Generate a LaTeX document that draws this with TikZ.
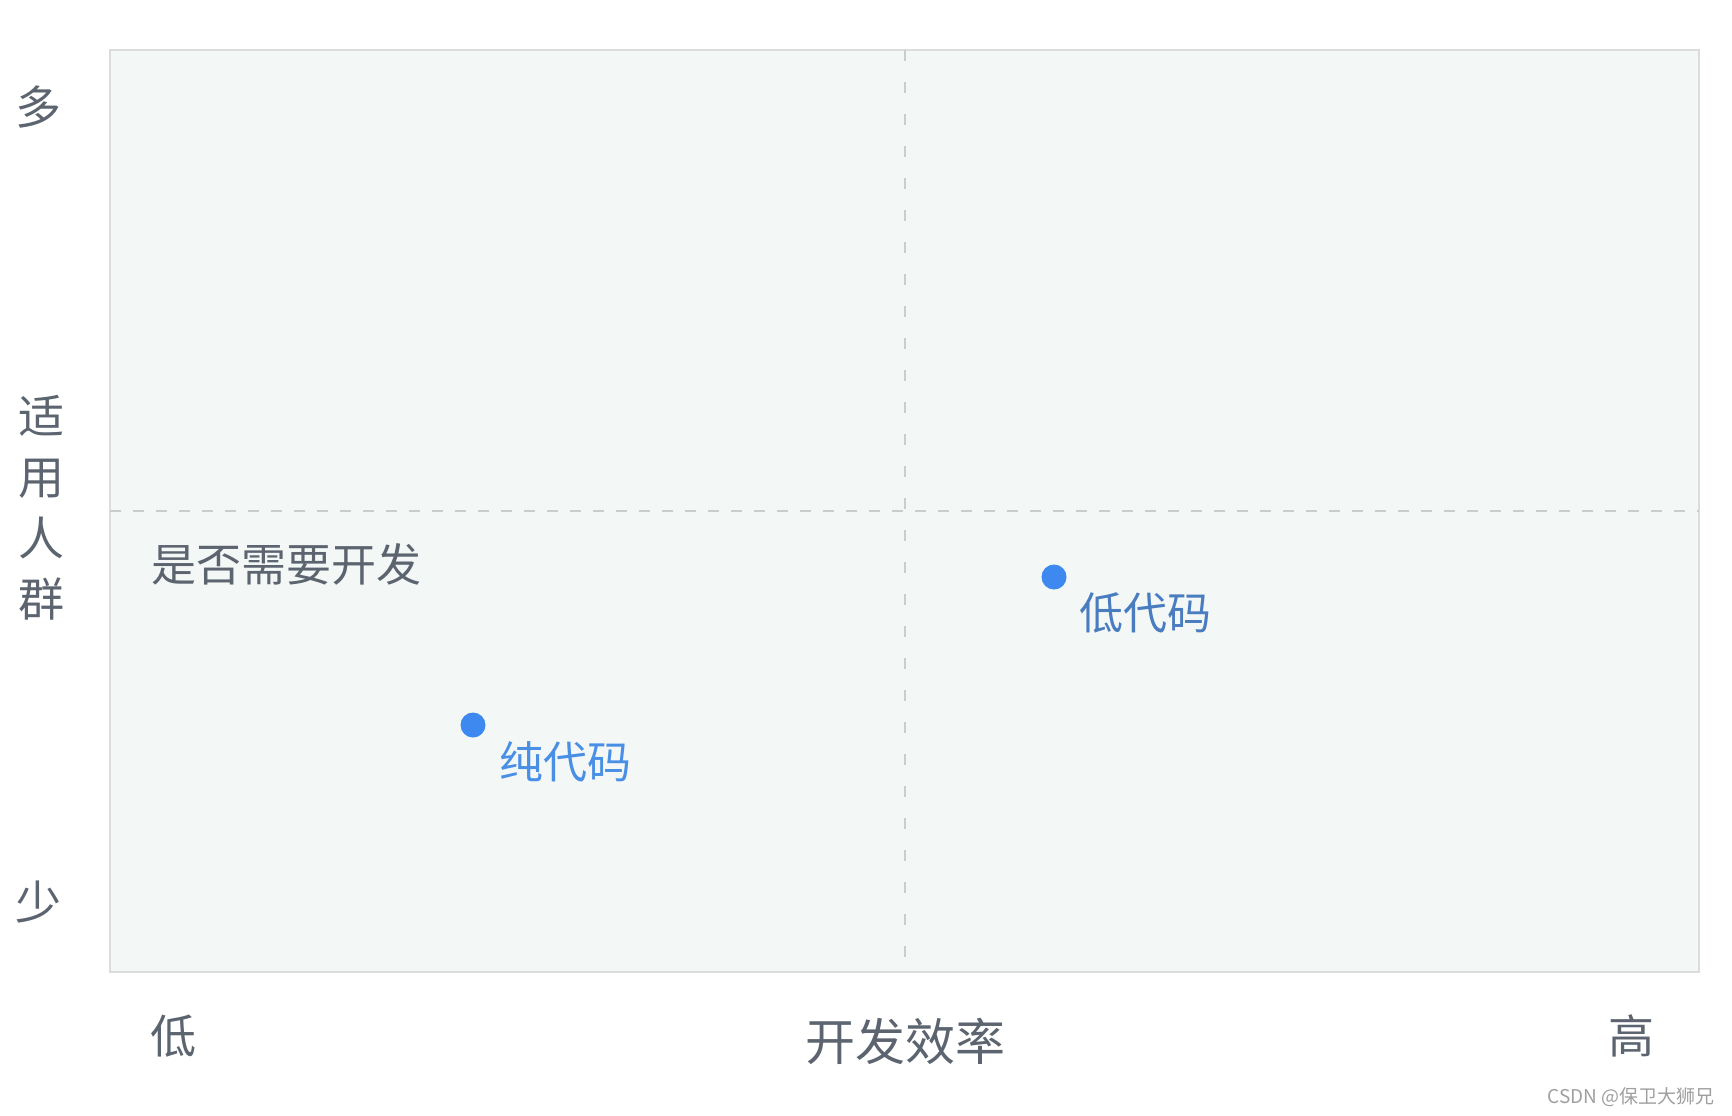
\documentclass[tikz,border=0pt]{standalone}
\usepackage{fontspec}
\setmainfont{Noto Sans CJK SC}
\usetikzlibrary{positioning}
\definecolor{axisgray}{HTML}{5C6470}
\definecolor{mint}{HTML}{F3F8F6}
\definecolor{frame}{HTML}{DADDDC}
\definecolor{dashgray}{HTML}{C9CDCC}
\definecolor{dotblue}{HTML}{3D89F0}
\definecolor{pureblue}{HTML}{4A8FE6}
\definecolor{lowblue}{HTML}{4A7CC0}
\tikzset{
    axis/.style={text=axisgray, inner sep=0pt, font=\fontsize{46}{61}\selectfont},
    tag/.style={inner sep=0pt, font=\fontsize{44}{50}\selectfont},
    dot/.style={circle, fill=dotblue, minimum size=25pt, inner sep=0pt},
    split/.style={dashgray, line width=1.8pt}
}

\begin{document}
\begin{tikzpicture}[x=1pt, y=-1pt]
        \useasboundingbox (0,0) rectangle (1732,1116);
        \draw[frame, fill=mint, line width=2.5pt] (110,50) rectangle (1699,972);
        \coordinate (top) at (905,50);
        \coordinate (bottom) at (905,972);
        \coordinate (left) at (110,511);
        \coordinate (right) at (1699,511);
        \draw[split, dash pattern=on 11pt off 21pt] (top) -- (bottom);
        \draw[split, dash pattern=on 11pt off 12pt] (left) -- (right);
        \node[axis] (many) at (39,107) {多};
        \node[axis, align=center] (crowd) at (41,508) {适\\用\\人\\群};
        \node[axis] (few) at (39,902) {少};
        \node[axis] (lowx) at (173,1036) {低};
        \node[axis, font=\fontsize{50}{60}\selectfont] (eff) at (905,1041) {开发效率};
        \node[axis] (highx) at (1631,1036) {高};
        \node[axis, font=\fontsize{45}{50}\selectfont, anchor=west] (need) at (151,564) {是否需要开发};
        \node[dot] (pure) at (473,725) {};
        \node[tag, text=pureblue, anchor=west] (purelbl) at ([xshift=26pt, yshift=-37pt]pure) {纯代码};
        \node[dot] (low) at (1054,577) {};
        \node[tag, text=lowblue, anchor=west] (lowlbl) at ([xshift=25pt, yshift=-36pt]low) {低代码};
        \node[text=gray!75, inner sep=0pt, font=\fontsize{19}{22}\selectfont, anchor=east] (mark) at (1715,1097) {CSDN @保卫大狮兄};
    \end{tikzpicture}
\end{document}
